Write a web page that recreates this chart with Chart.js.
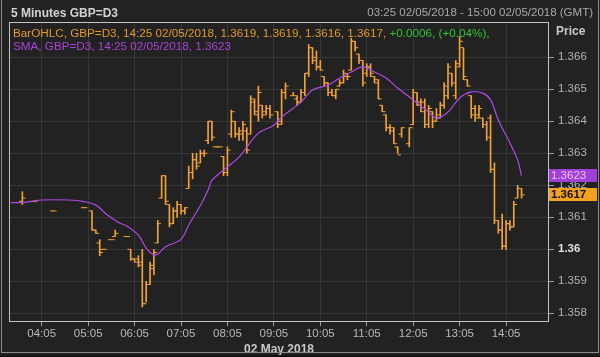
<!DOCTYPE html>
<html><head><meta charset="utf-8">
<script src="https://cdn.jsdelivr.net/npm/chart.js@4.4.1/dist/chart.umd.min.js"></script>
<style>
html,body{margin:0;padding:0;background:#111;}
#wrap{position:relative;width:600px;height:357px;overflow:hidden;background:#222222;font-family:"Liberation Sans",Arial,sans-serif;}
#outer{position:absolute;left:1px;top:0;width:596px;height:352px;border:1px solid #8a8a8a;border-top:none;pointer-events:none}
#under{position:absolute;left:0;top:355px;width:600px;height:2px;background:#141414}
canvas{position:absolute;left:0;top:0}
.t{position:absolute;white-space:nowrap;line-height:1}
</style></head><body>
<div id="wrap">
<canvas id="c" width="600" height="357"></canvas>
<div class="t" style="left:11px;top:7px;font-weight:bold;font-size:12px;color:#d2d2d2">5 Minutes GBP=D3</div>
<div class="t" style="right:7px;top:7px;font-size:11.5px;color:#a9a9a9">03:25 02/05/2018 - 15:00 02/05/2018 (GMT)</div>
<div class="t" id="leg1" style="left:13px;top:27px;font-size:11.7px;color:#e39a2f"></div>
<div class="t" id="leg2" style="left:13px;top:40px;font-size:11.7px;color:#a844d8"></div>
<div class="t" style="left:556px;top:25px;font-weight:bold;font-size:12px;color:#c8c8c8">Price</div>
<div id="outer"></div>
<div id="under"></div>
</div>
<script>
// ---- tick labels ----
const xTickSlots = [8, 20, 32, 44, 56, 68, 80, 92, 104, 116, 128];
const xTickLabels = ['04:05','05:05','06:05','07:05','08:05','09:05','10:05','11:05','12:05','13:05','14:05'];
const yTicks = [1.358, 1.359, 1.36, 1.361, 1.362, 1.363, 1.364, 1.365, 1.366];

// ---- OHLC bars: slot = number of 5-minute steps after 03:25 ----
const barIndex = [3,6,11,19,21,22,23,24,26,27,
 30,31,32,33,34,35,36,37,38,39,40,41,42,43,44,45,46,47,
 48,49,50,51,52,53,54,55,56,57,58,59,60,61,62,63,64,65,66,67,
 69,70,71,73,74,75,76,77,78,79,80,81,82,83,84,85,86,87,88,89,90,91,92,93,94,95,96,97,98,99,100,101,
 103,104,105,106,107,108,109,110,111,112,113,114,115,116,117,118,119,120,121,122,123,124,125,126,127,128,129,130,131,132];
const opens = [1.3615,1.3615,1.3612,1.3613,1.3612,1.3606,1.3602,1.3600,1.3603,1.3604,
 1.3604,1.3600,1.3597,1.3597,1.3596,1.3583,1.3589,1.3594,1.3602,1.3616,1.3623,1.3614,1.3608,1.3612,1.3614,1.3612,1.3619,1.3624,
 1.3628,1.3627,1.3630,1.3634,1.3640,1.3632,1.3632,1.3629,1.3624,1.3636,1.3640,1.3636,1.3636,1.3637,1.3636,1.3646,1.3642,1.3645,1.3643,1.3644,
 1.3643,1.3640,1.3649,1.3648,1.3647,1.3646,1.3649,1.3655,1.3663,1.3660,1.3657,1.3654,1.3652,1.3649,1.3648,1.3651,1.3652,1.3654,1.3656,1.3665,1.3661,1.3659,1.3655,1.3657,1.3654,1.3653,1.3645,1.3642,1.3638,1.3638,1.3632,1.3636,
 1.3633,1.3639,1.3649,1.3646,1.3646,1.3639,1.3643,1.3640,1.3641,1.3645,1.3648,1.3655,1.3648,1.3657,1.3663,1.3653,1.3648,1.3644,1.3642,1.3641,1.3639,1.3641,1.3625,1.3609,1.3606,1.3601,1.3608,1.3607,1.3616,1.3619];
const highs = [1.3618,1.3615,1.3612,1.3613,1.3612,1.3606,1.3603,1.3600,1.3603,1.3606,
 1.3604,1.3600,1.3597,1.3598,1.3600,1.3590,1.3596,1.3600,1.3609,1.3623,1.3623,1.3614,1.3613,1.3615,1.3614,1.3613,1.3626,1.3630,
 1.3630,1.3631,1.3631,1.3640,1.3640,1.3632,1.3632,1.3629,1.3632,1.36435,1.3640,1.3638,1.3640,1.3638,1.3648,1.3647,1.3651,1.3645,1.3645,1.3645,
 1.3643,1.3650,1.3652,1.3649,1.3648,1.3650,1.3655,1.3664,1.3663,1.3662,1.3659,1.3654,1.3652,1.3650,1.3650,1.3653,1.3656,1.3655,1.3666,1.3665,1.3661,1.3659,1.3658,1.3658,1.3654,1.3653,1.3645,1.3642,1.3639,1.3638,1.3632,1.3638,
 1.3638,1.3650,1.3649,1.3647,1.3647,1.3645,1.3643,1.3644,1.3646,1.3652,1.3658,1.3655,1.3659,1.36665,1.3663,1.3653,1.3648,1.3645,1.3645,1.3641,1.3640,1.3642,1.3627,1.3609,1.3611,1.3609,1.3609,1.3615,1.3620,1.3619];
const lows = [1.3614,1.3615,1.3612,1.3613,1.3606,1.3605,1.3598,1.3600,1.3603,1.3604,
 1.3604,1.35965,1.3596,1.35945,1.3582,1.35835,1.3589,1.3592,1.3602,1.3616,1.3614,1.3607,1.3608,1.3610,1.3611,1.3611,1.3619,1.3622,
 1.3625,1.3627,1.3629,1.3633,1.3634,1.3632,1.3632,1.3623,1.3623,1.3635,1.3635,1.3634,1.3634,1.3630,1.3636,1.3642,1.3640,1.3641,1.3642,1.3641,
 1.3638,1.3639,1.3647,1.3648,1.3645,1.3646,1.3648,1.3654,1.3658,1.3656,1.3656,1.3651,1.3648,1.3648,1.3647,1.3651,1.3652,1.3653,1.3656,1.3662,1.3658,1.3651,1.3654,1.3654,1.3652,1.3647,1.3643,1.3637,1.3636,1.3633,1.3630,1.3635,
 1.3632,1.3639,1.3645,1.3643,1.3638,1.3638,1.3638,1.3640,1.3641,1.3644,1.3647,1.3651,1.3647,1.3657,1.3653,1.3651,1.3641,1.3640,1.3641,1.3638,1.3634,1.3624,1.3608,1.3605,1.3600,1.3600,1.3606,1.3607,1.3616,1.3616];
const closes = [1.3616,1.3615,1.3612,1.3613,1.3606,1.3605,1.3599,1.3600,1.3603,1.3605,
 1.3604,1.3597,1.3596,1.3595,1.3583,1.3589,1.3595,1.3599,1.3608,1.3623,1.3615,1.3608,1.3612,1.3614,1.3612,1.3613,1.3624,1.3628,
 1.3626,1.3630,1.3630,1.3640,1.3635,1.3632,1.3632,1.3624,1.3631,1.3643,1.3636,1.3637,1.3639,1.3631,1.3647,1.3643,1.3649,1.3642,1.3644,1.3642,
 1.3639,1.3649,1.3651,1.3648,1.3646,1.3649,1.3655,1.3663,1.3659,1.3657,1.3656,1.3652,1.3649,1.3648,1.3650,1.3652,1.3655,1.3654,1.3665,1.3663,1.3659,1.3652,1.3657,1.3655,1.3652,1.3647,1.3643,1.3638,1.3637,1.3633,1.36295,1.3638,
 1.3638,1.3649,1.3645,1.3643,1.3639,1.3644,1.3640,1.3642,1.3645,1.3651,1.3657,1.3652,1.3658,1.3665,1.3654,1.3651,1.3642,1.3641,1.3644,1.3639,1.3635,1.3625,1.3609,1.3606,1.3601,1.3608,1.3607,1.3614,1.3619,1.3617];

// ---- SMA line ----
const smaIndex = [0,3,5,8,15,19,22,25,28,30,33,35,37,38,40,44,46,49,51,52,56,59,61,64,68,70,75,78,82,85,88,91,94,97,100,104,108,110,113,116,119,122,124,126,129,131,132];
const smaValues = [1.36146,1.36146,1.36149,1.36154,1.36154,1.36149,1.36138,1.36107,1.36083,1.36073,1.36044,1.36004,1.35982,1.35985,1.36008,1.36031,1.36076,1.36137,1.36185,1.36216,1.36257,1.36288,1.36319,1.36363,1.36388,1.36413,1.3646,1.36498,1.36513,1.36535,1.36554,1.3657,1.36554,1.36535,1.36504,1.36467,1.36429,1.3641,1.36429,1.36473,1.36492,1.36488,1.36467,1.36404,1.36332,1.36279,1.3623];

const FONT = '"Liberation Sans", Arial, sans-serif';
const ORANGE = '#f0a236';
const PURPLE = '#b048e6';

const n = opens.length;
const lastO = opens[n-1], lastH = highs[n-1], lastL = lows[n-1], lastC = closes[n-1];
const lastSma = smaValues[smaValues.length-1];
document.getElementById('leg1').innerHTML = 'BarOHLC, GBP=D3, 14:25 02/05/2018, ' +
  [lastO,lastH,lastL,lastC].map(v=>v.toFixed(4)).join(', ') + ', <span style="color:#2fc52f">+0.0006, (+0.04%),</span>';
document.getElementById('leg2').textContent = 'SMA, GBP=D3, 14:25 02/05/2018, ' + lastSma.toFixed(4);

const barData = barIndex.map((x,k)=>({x:x, y:[lows[k], highs[k]]}));
const openData = barIndex.map((x,k)=>({x:x-0.42, y:opens[k]}));
const closeData = barIndex.map((x,k)=>({x:x+0.42, y:closes[k]}));
const smaData = smaIndex.map((x,k)=>({x:x, y:smaValues[k]}));

const isBold = ctx => !!(ctx && ctx.tick && Math.abs(ctx.tick.value - 1.36) < 1e-9);

const framePlugin = {
  id:'frameAndBoxes',
  afterDraw(chart){
    const {ctx, chartArea:a, scales} = chart;
    ctx.save();
    ctx.strokeStyle = '#c4c4c4';
    ctx.lineWidth = 1;
    ctx.strokeRect(a.left+0.5, a.top+0.5, a.right-a.left-1, a.bottom-a.top-1);
    const y = scales.y;
    const ys = y.getPixelForValue(lastSma);
    const yc = y.getPixelForValue(lastC);
    ctx.fillStyle = '#a23fd8';
    ctx.fillRect(a.right, Math.round(ys)-7, 48, 13);
    ctx.fillStyle = '#e6c2ff';
    ctx.font = '11.5px ' + FONT;
    ctx.textBaseline = 'middle';
    ctx.textAlign = 'left';
    ctx.fillText(lastSma.toFixed(4), a.right+2, Math.round(ys)-0.5);
    ctx.fillStyle = '#f4a21e';
    ctx.fillRect(a.right, Math.round(yc)-7, 48, 13);
    ctx.fillStyle = '#111';
    ctx.font = 'bold 11.5px ' + FONT;
    ctx.fillText(lastC.toFixed(4), a.right+2, Math.round(yc)-0.5);
    ctx.restore();
  }
};

Chart.defaults.font.family = FONT;

new Chart(document.getElementById('c'), {
  type: 'bar',
  data: {
    datasets: [
      {type:'line', data: smaData, borderColor: PURPLE, borderWidth: 1.2, pointRadius: 0, tension: 0.35, fill:false, order: 0},
      {type:'bar', data: barData, backgroundColor: ORANGE, borderWidth: 0, barThickness: 1, grouped:false, order: 2},
      {type:'scatter', data: openData, pointStyle:'line', pointRadius:1.6, pointBorderWidth:1, borderColor: ORANGE, backgroundColor: ORANGE, showLine:false, order: 1},
      {type:'scatter', data: closeData, pointStyle:'line', pointRadius:1.6, pointBorderWidth:1, borderColor: ORANGE, backgroundColor: ORANGE, showLine:false, order: 1}
    ]
  },
  options: {
    responsive: false,
    animation: false,
    events: [],
    layout: {padding: {top: 22, left: 9, right: 0, bottom: 0}},
    plugins: {legend:{display:false}, tooltip:{enabled:false}, title:{display:false}},
    scales: {
      x: {
        type: 'linear', min: -0.45, max: 139.1, offset: false,
        afterBuildTicks: s => { s.ticks = xTickSlots.map(v => ({value: v})); },
        afterFit: s => { s.height = 35; },
        grid: {color: '#373737', lineWidth: 1, tickLength: 4, tickColor: '#9a9a9a', offset:false},
        border: {display: false},
        ticks: {color: '#b8b8b8', font: {size: 11.5}, padding: 1, autoSkip: false, maxRotation: 0,
          callback: (v, i) => xTickLabels[i]},
        title: {display: true, text: '02 May 2018', color: '#c8c8c8', font: {size: 12, weight: 'bold'}, padding: {top: 0, bottom: 0}}
      },
      y: {
        type: 'linear', position: 'right', min: 1.357728, max: 1.367103,
        afterBuildTicks: s => { s.ticks = yTicks.map(v => ({value: v})); },
        afterFit: s => { s.width = 51; },
        grid: {color: '#373737', lineWidth: 1, tickLength: 5, tickColor: '#9a9a9a'},
        border: {display: false},
        ticks: {
          padding: 4,
          color: ctx => isBold(ctx) ? '#e0e0e0' : '#b3b3b3',
          font: ctx => ({size: 11.5, weight: isBold(ctx) ? 'bold' : 'normal'}),
          callback: v => String(Math.round(v * 1000) / 1000)
        }
      }
    }
  },
  plugins: [framePlugin]
});
</script>
</body></html>
